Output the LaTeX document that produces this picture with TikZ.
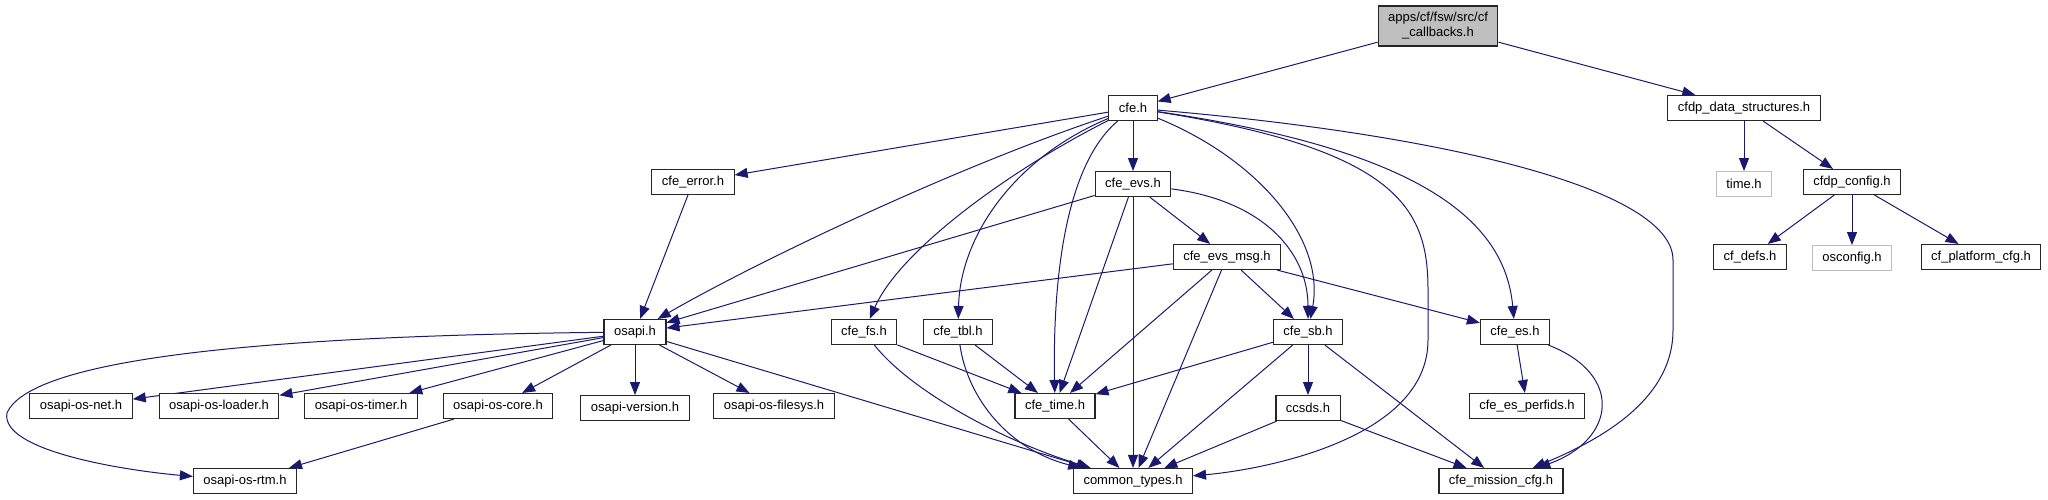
\documentclass[tikz,border=0pt]{standalone}
\usepackage{fontspec}
\setmainfont{Liberation Sans}
\usepackage{tikz}
\usetikzlibrary{positioning, arrows.meta}
\definecolor{edgeblue}{HTML}{191970}
\definecolor{rootgrey}{HTML}{BFBFBF}
\pgfdeclarelayer{edges}
\pgfsetlayers{edges,main}

\begin{document}
\begin{tikzpicture}[
    x=1pt, y=-1pt,
    % Define common styles
        node distance=50pt,
        file/.style={draw=black!85, fill=white, line width=1.1pt, rectangle, minimum height=25pt, inner xsep=10pt, inner ysep=0pt, font=\fontsize{13}{15}\selectfont},
        sysfile/.style={file, draw=rootgrey},
        rootfile/.style={file, fill=rootgrey, align=center, minimum height=40pt},
        dep/.style={-{Triangle[length=13pt, width=10pt]}, draw=edgeblue, line width=1pt}
    ]
    \useasboundingbox (0,0) rectangle (2048,500);

        % Top file
        \node[rootfile] (root) at (1438,26) {apps/cf/fsw/src/cf\\\_callbacks.h};

        % Second row
        \node[file] (cfe) at (1133,108) {cfe.h};
        \node[file] (cfdpdata) at (1744,108) {cfdp\_data\_structures.h};

        % Third row
        \node[file] (cfeerror) at (693,182) {cfe\_error.h};
        \node[file, below=of cfe] (cfeevs) {cfe\_evs.h};
        \node[sysfile, below=of cfdpdata] (timeh) {time.h};
        \node[file] (cfdpconfig) at (1852,182) {cfdp\_config.h};

        % Fourth row
        \node[file] (evsmsg) at (1227,257) {cfe\_evs\_msg.h};
        \node[file] (cfdefs) at (1750,257) {cf\_defs.h};
        \node[sysfile, below=of cfdpconfig] (osconfig) {osconfig.h};
        \node[file] (platformcfg) at (1981,257) {cf\_platform\_cfg.h};

        % Fifth row
        \node[file] (osapi) at (635,332) {osapi.h};
        \node[file] (cfefs) at (864,332) {cfe\_fs.h};
        \node[file] (cfetbl) at (958,332) {cfe\_tbl.h};
        \node[file] (cfesb) at (1308,332) {cfe\_sb.h};
        \node[file] (cfees) at (1515,332) {cfe\_es.h};

        % Sixth row
        \node[file] (osnet) at (81,406) {osapi-os-net.h};
        \node[file] (osloader) at (219,406) {osapi-os-loader.h};
        \node[file] (ostimer) at (361,406) {osapi-os-timer.h};
        \node[file] (oscore) at (498,406) {osapi-os-core.h};
        \node[file, below=of osapi] (osversion) {osapi-version.h};
        \node[file] (osfilesys) at (774,406) {osapi-os-filesys.h};
        \node[file] (cfetime) at (1055,406) {cfe\_time.h};
        \node[file, below=of cfesb] (ccsds) {ccsds.h};
        \node[file] (perfids) at (1527,406) {cfe\_es\_perfids.h};

        % Bottom row
        \node[file] (osrtm) at (245,481) {osapi-os-rtm.h};
        \node[file] (commontypes) at (1133,481) {common\_types.h};
        \node[file] (missioncfg) at (1501,481) {cfe\_mission\_cfg.h};

    \begin{pgfonlayer}{edges}
        % Includes of the top file
        \draw[dep] (root) -- (cfe);
        \draw[dep] (root) -- (cfdpdata);

        % Includes of cfe.h
        \draw[dep] (cfe) -- (cfeerror);
        \draw[dep] (cfe) .. controls (960,165) and (760,260) .. (osapi);
        \draw[dep] (cfe) .. controls (1010,170) and (900,250) .. (cfefs);
        \draw[dep] (cfe) .. controls (1010,160) and (960,240) .. (cfetbl);
        \draw[dep] (cfe) .. controls (1060,170) and (1053,300) .. (cfetime);
        \draw[dep] (cfe) -- (cfeevs);
        \draw[dep] (cfe) .. controls (1260,160) and (1325,240) .. (cfesb);
        \draw[dep] (cfe) .. controls (1400,150) and (1428,210) .. (1428,290)
            -- (1428,340) .. controls (1428,440) and (1260,470) .. (commontypes);
        \draw[dep] (cfe) .. controls (1420,150) and (1505,220) .. (cfees);
        \draw[dep] (cfe) .. controls (1450,135) and (1673,190) .. (1673,260)
            -- (1673,330) .. controls (1673,400) and (1600,440) .. (missioncfg);

        % Second level includes
        \draw[dep] (cfeerror) -- (osapi);
        \draw[dep] (cfeevs) -- (osapi);
        \draw[dep] (cfeevs) -- (evsmsg);
        \draw[dep] (cfeevs) -- (cfetime);
        \draw[dep] (cfeevs) -- (commontypes);
        \draw[dep] (cfeevs) .. controls (1260,200) and (1308,250) .. (cfesb);
        \draw[dep] (evsmsg) -- (osapi);
        \draw[dep] (evsmsg) -- (cfetime);
        \draw[dep] (evsmsg) -- (commontypes);
        \draw[dep] (evsmsg) -- (cfesb);
        \draw[dep] (evsmsg) -- (cfees);

        % Includes of osapi.h
        \draw[dep] (osapi) -- (osnet);
        \draw[dep] (osapi) -- (osloader);
        \draw[dep] (osapi) -- (ostimer);
        \draw[dep] (osapi) -- (oscore);
        \draw[dep] (osapi) -- (osversion);
        \draw[dep] (osapi) -- (osfilesys);
        \draw[dep] (osapi) -- (commontypes);
        \draw[dep] (osapi) .. controls (250,336) and (30,360) .. (7,413)
            .. controls (0,450) and (120,470) .. (osrtm);
        \draw[dep] (oscore) -- (osrtm);

        % Lower includes
        \draw[dep] (cfefs) -- (cfetime);
        \draw[dep] (cfefs) .. controls (910,390) and (1000,440) .. (commontypes);
        \draw[dep] (cfetbl) -- (cfetime);
        \draw[dep] (cfetbl) .. controls (968,400) and (1010,450) .. (commontypes);
        \draw[dep] (cfesb) -- (cfetime);
        \draw[dep] (cfesb) -- (commontypes);
        \draw[dep] (cfesb) -- (ccsds);
        \draw[dep] (cfesb) -- (missioncfg);
        \draw[dep] (cfetime) -- (commontypes);
        \draw[dep] (ccsds) -- (commontypes);
        \draw[dep] (ccsds) -- (missioncfg);
        \draw[dep] (cfees) -- (perfids);
        \draw[dep] (cfees) .. controls (1625,375) and (1615,440) .. (missioncfg);

        % CFDP includes
        \draw[dep] (cfdpdata) -- (timeh);
        \draw[dep] (cfdpdata) -- (cfdpconfig);
        \draw[dep] (cfdpconfig) -- (cfdefs);
        \draw[dep] (cfdpconfig) -- (osconfig);
        \draw[dep] (cfdpconfig) -- (platformcfg);
    \end{pgfonlayer}

\end{tikzpicture}
\end{document}
